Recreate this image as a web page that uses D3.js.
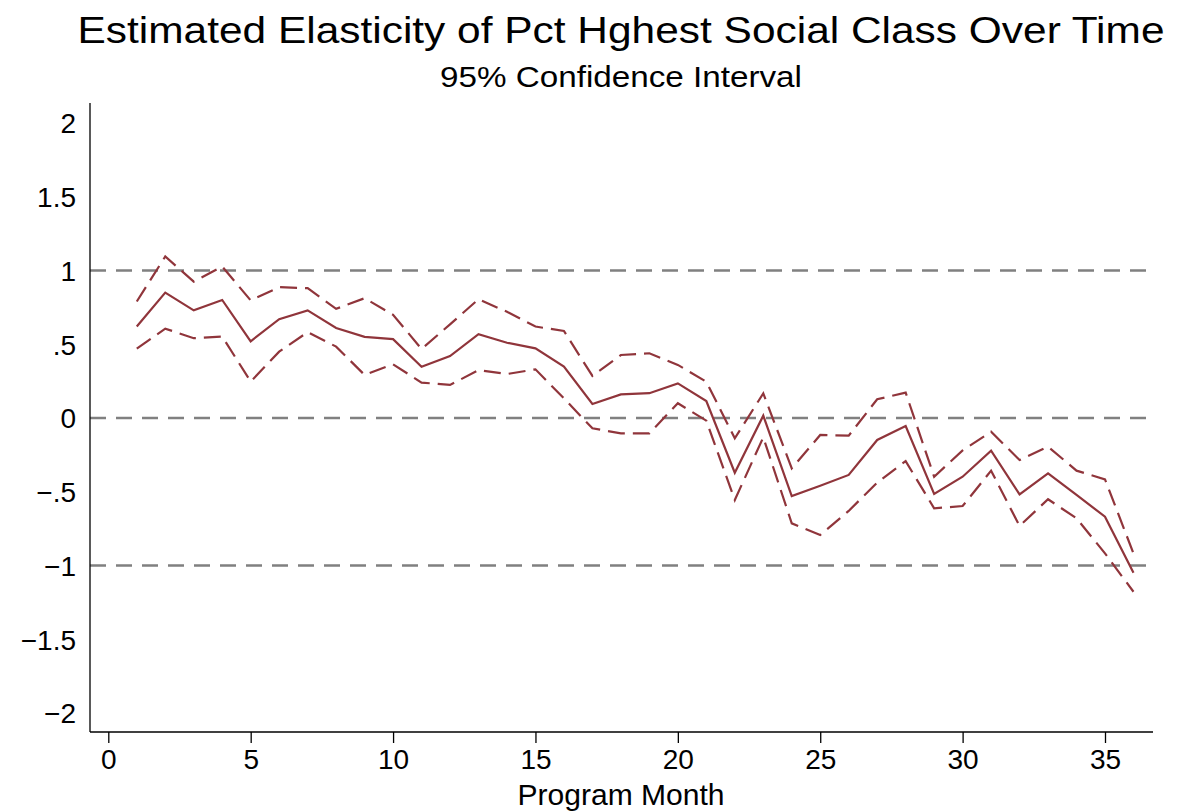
<!DOCTYPE html>
<html>
<head>
<meta charset="utf-8">
<script src="https://cdn.jsdelivr.net/npm/d3@7/dist/d3.min.js"></script>
<style>
  body { margin: 0; background: #fff; }
  text { font-family: "Liberation Sans", Arial, sans-serif; fill: #000; }
</style>
</head>
<body>
<svg id="chart" width="1180" height="811"></svg>
<script>
const months = [1,2,3,4,5,6,7,8,9,10,11,12,13,14,15,16,17,18,19,20,21,22,23,24,25,26,27,28,29,30,31,32,33,34,35,36];
const estimate = [0.62,0.85,0.73,0.80,0.52,0.67,0.73,0.61,0.55,0.535,0.348,0.42,0.568,0.51,0.472,0.348,0.095,0.16,0.168,0.235,0.115,-0.371,0.016,-0.529,-0.459,-0.386,-0.149,-0.054,-0.515,-0.398,-0.222,-0.518,-0.375,-0.522,-0.669,-1.049];
const upper = [0.79,1.095,0.925,1.027,0.797,0.887,0.88,0.74,0.812,0.70,0.468,0.635,0.805,0.72,0.62,0.59,0.285,0.427,0.439,0.36,0.246,-0.138,0.167,-0.341,-0.115,-0.12,0.127,0.172,-0.398,-0.22,-0.093,-0.285,-0.194,-0.357,-0.416,-0.918];
const lower = [0.47,0.606,0.541,0.552,0.247,0.45,0.582,0.484,0.292,0.364,0.24,0.224,0.325,0.298,0.33,0.133,-0.07,-0.104,-0.104,0.10,-0.018,-0.556,-0.131,-0.714,-0.793,-0.63,-0.438,-0.292,-0.612,-0.597,-0.357,-0.732,-0.551,-0.68,-0.918,-1.178];
const xTicks = [0,5,10,15,20,25,30,35];
const yTicks = [2,1.5,1,0.5,0,-0.5,-1,-1.5,-2];
const yTickLabels = ["2","1.5","1",".5","0","\u2212.5","\u22121","\u22121.5","\u22122"];
const refLines = [1,0,-1];
const titleText = "Estimated Elasticity of Pct Hghest Social Class Over Time";
const subtitleText = "95% Confidence Interval";
const xTitle = "Program Month";

const svg = d3.select("#chart");
const lineColor = "#90353b";
const axLeft = 90, axRight = 1153, axTop = 103, axBottom = 732;

const x = d3.scaleLinear().domain([0,35]).range([108.3,1105]);
const y = d3.scaleLinear().domain([-2,2]).range([713,123]);

// title
svg.append("text").attr("x",621).attr("y",43).attr("text-anchor","middle")
  .attr("font-size",37).attr("textLength",1087).attr("lengthAdjust","spacingAndGlyphs").text(titleText);
svg.append("text").attr("x",621).attr("y",87).attr("text-anchor","middle")
  .attr("font-size",29).attr("textLength",362).attr("lengthAdjust","spacingAndGlyphs").text(subtitleText);

// reference lines
svg.selectAll("line.ref").data(refLines).enter().append("line")
  .attr("x1",axLeft).attr("x2",axRight-2)
  .attr("y1",d=>y(d)).attr("y2",d=>y(d))
  .attr("stroke","#808080").attr("stroke-width",2.5).attr("stroke-dasharray","16,10");

// axes
const yAxis = d3.axisLeft(y).tickValues(yTicks).tickSize(0).tickPadding(14)
  .tickFormat((d,i)=>yTickLabels[i]);
const gy = svg.append("g").attr("transform",`translate(${axLeft},0)`).call(yAxis);
gy.select(".domain").remove();
gy.selectAll("text").attr("font-size",28).attr("font-family","Liberation Sans, Arial, sans-serif").attr("dy","0.35em");
svg.append("line").attr("x1",axLeft).attr("x2",axLeft).attr("y1",axTop).attr("y2",axBottom)
  .attr("stroke","#000").attr("stroke-width",1.3);

const xAxis = d3.axisBottom(x).tickValues(xTicks).tickSize(11).tickPadding(6).tickFormat(d3.format("d"));
const gx = svg.append("g").attr("transform",`translate(0,${axBottom})`).call(xAxis);
gx.select(".domain").remove();
gx.selectAll(".tick line").attr("stroke","#000").attr("stroke-width",1.3);
gx.selectAll("text").attr("font-size",28).attr("font-family","Liberation Sans, Arial, sans-serif");
svg.append("line").attr("x1",axLeft).attr("x2",axRight).attr("y1",axBottom).attr("y2",axBottom)
  .attr("stroke","#000").attr("stroke-width",1.3);

svg.append("text").attr("x",621).attr("y",805).attr("text-anchor","middle")
  .attr("font-size",29).attr("textLength",207).attr("lengthAdjust","spacingAndGlyphs").text(xTitle);

// series
const mk = arr => d3.line().x((d,i)=>x(months[i])).y(d=>y(d))(arr);
svg.append("path").attr("d",mk(upper)).attr("fill","none").attr("stroke",lineColor)
  .attr("stroke-width",2.2).attr("stroke-dasharray","17,8");
svg.append("path").attr("d",mk(lower)).attr("fill","none").attr("stroke",lineColor)
  .attr("stroke-width",2.2).attr("stroke-dasharray","17,8");
svg.append("path").attr("d",mk(estimate)).attr("fill","none").attr("stroke",lineColor)
  .attr("stroke-width",2.2);
</script>
</body>
</html>
